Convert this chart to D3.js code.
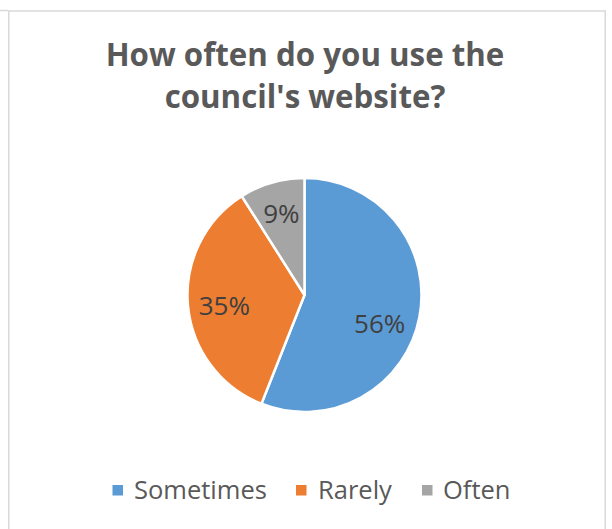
<!DOCTYPE html>
<html>
<head>
<meta charset="utf-8">
<script src="https://cdn.jsdelivr.net/npm/d3@7"></script>
<style>
  html, body { margin: 0; padding: 0; background: #fff; }
  svg { display: block; }
  text { font-family: "Open Sans", "Liberation Sans", sans-serif; }
</style>
</head>
<body>
<svg id="chart" width="612" height="529"></svg>
<script>
// Survey answers: share of respondents per answer
const categories = ["Sometimes", "Rarely", "Often"];
const shares = [56, 35, 9];
const sliceColors = ["#5B9BD5", "#ED7D31", "#A5A5A5"];
const titleLines = ["How often do you use the", "council's website?"];

const W = 612, H = 529;
const svg = d3.select("#chart");

// chart frame
svg.append("line").attr("x1", 0).attr("x2", 8).attr("y1", 10.5).attr("y2", 10.5)
  .attr("stroke", "#d9d9d9").attr("stroke-width", 1.5);
svg.append("rect")
  .attr("x", 8.75).attr("y", 11).attr("width", 596.5).attr("height", H + 20)
  .attr("fill", "none").attr("stroke", "#d9d9d9").attr("stroke-width", 1.5);

// title: one font size, sized so the first line spans the set width
const titleBaselines = [66, 108];
const titles = titleLines.map((line, i) => svg.append("text")
  .attr("x", 305).attr("y", titleBaselines[i])
  .attr("text-anchor", "middle")
  .attr("font-weight", "bold")
  .attr("fill", "#595959")
  .attr("font-size", 30)
  .text(line));
const titleSize = 30 * 399 / titles[0].node().getComputedTextLength();
titles.forEach(t => t.attr("font-size", titleSize));

// pie
const cx = 304.5, cy = 295, r = 117;
const pie = d3.pie().sort(null).value(d => d.value);
const arcs = pie(categories.map((c, i) => ({ name: c, value: shares[i], color: sliceColors[i] })));
const arc = d3.arc().innerRadius(0).outerRadius(r);
const g = svg.append("g").attr("transform", `translate(${cx},${cy})`);

g.selectAll("path.slice")
  .data(arcs)
  .join("path")
  .attr("class", "slice")
  .attr("d", arc)
  .attr("fill", d => d.data.color)
  .attr("stroke", "#fff")
  .attr("stroke-width", 2.5)
  .attr("stroke-linejoin", "round");

// data labels placed at an inner ring, with small best-fit nudges
const labelArc = d3.arc().innerRadius(r * 0.68).outerRadius(r * 0.68);
const nudge = { Sometimes: [-3, 13], Rarely: [-1, 3], Often: [-1, -6] };
g.selectAll("text.lbl")
  .data(arcs)
  .join("text")
  .attr("class", "lbl")
  .attr("transform", d => {
    const [x, y] = labelArc.centroid(d);
    const [dx, dy] = nudge[d.data.name];
    return `translate(${x + dx},${y + dy})`;
  })
  .attr("text-anchor", "middle")
  .attr("dominant-baseline", "central")
  .attr("fill", "#404040")
  .attr("font-size", 26)
  .text(d => `${d.data.value}%`);

// legend
const legendY = 490;
const legendItems = [
  { sx: 112.5, tx: 134 },
  { sx: 296, tx: 318 },
  { sx: 422, tx: 443 }
];
categories.forEach((c, i) => {
  svg.append("rect")
    .attr("x", legendItems[i].sx).attr("y", legendY - 5)
    .attr("width", 10.5).attr("height", 10.5)
    .attr("fill", sliceColors[i]);
  svg.append("text")
    .attr("x", legendItems[i].tx).attr("y", legendY + 9)
    .attr("fill", "#595959")
    .attr("font-size", 25.5)
    .text(c);
});
</script>
</body>
</html>
